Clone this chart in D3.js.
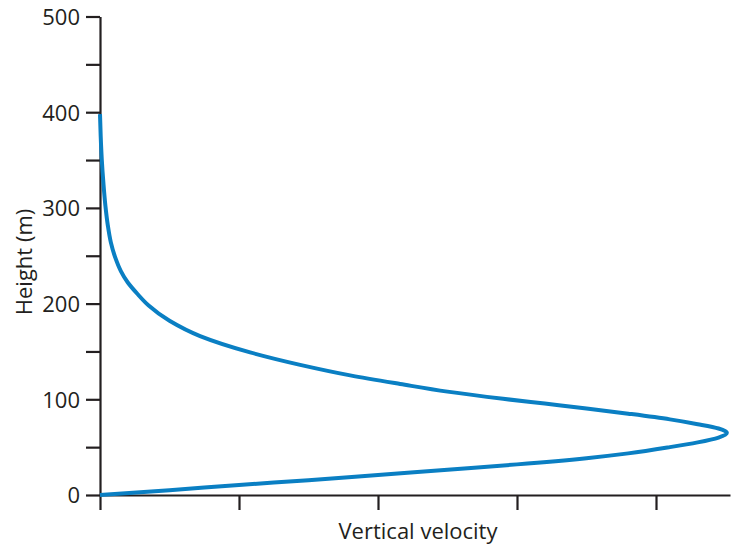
<!DOCTYPE html>
<html>
    <head>
        <meta charset="utf-8">
        <title>Vertical velocity profile</title>
        <script src="https://cdnjs.cloudflare.com/ajax/libs/d3/7.8.5/d3.min.js"></script>
        <style>
            body { margin: 0; background: #fff; }
            text { font-family: "Open Sans", sans-serif; fill: #231f20; }
            .axis path, .axis line { stroke: #231f20; stroke-width: 2.2; }
        </style>
    </head>
    <body>
        <div id="main"></div>
        <script>
            // heights (m) and velocity (arbitrary units, 1 unit = one x tick)
            var heights = [0, 5, 10.5, 15.5, 21, 26.5, 32, 38.5, 43.5, 50, 55, 60, 65,
                           69.5, 74, 79, 85, 90.5, 95.5, 100.5, 108, 116, 125, 136, 149,
                           166, 182, 198, 210, 222, 234, 248, 264, 282, 302, 325, 350, 375, 398];
            var velocity = [0, 0.5, 1, 1.5, 2, 2.5, 3, 3.5, 3.8, 4.1, 4.3, 4.45, 4.51,
                            4.45, 4.3, 4.1, 3.8, 3.5, 3.2, 2.9, 2.5, 2.16, 1.8, 1.44, 1.08,
                            0.72, 0.5, 0.35, 0.27, 0.2, 0.15, 0.11, 0.078, 0.056, 0.039, 0.025, 0.013, 0.005, 0];
            var yTicks = [0, 50, 100, 150, 200, 250, 300, 350, 400, 450, 500];
            var xTicks = [0, 1, 2, 3, 4];

            var width = 731, height = 546;
            var plotLeft = 100, plotRight = 730, plotTop = 16.5, plotBottom = 495;

            var svg = d3.select('#main').append('svg')
                .attr('width', width)
                .attr('height', height);

            var x = d3.scaleLinear().domain([0, 630 / 139]).range([plotLeft, plotRight]);
            var y = d3.scaleLinear().domain([0, 500]).range([plotBottom, plotTop]);

            svg.append('g')
                .attr('class', 'axis')
                .attr('transform', 'translate(0,' + plotBottom + ')')
                .call(d3.axisBottom(x).tickValues(xTicks).tickSize(15).tickSizeOuter(0).tickFormat(''))
                .call(function(g) { g.selectAll('text').remove(); });

            svg.append('g')
                .attr('class', 'axis')
                .attr('transform', 'translate(' + plotLeft + ',0)')
                .call(d3.axisLeft(y).tickValues(yTicks).tickSize(14).tickSizeOuter(0).tickPadding(6)
                    .tickFormat(function(d) { return d % 100 === 0 ? d : ''; }))
                .call(function(g) {
                    g.selectAll('text').style('font-size', '22px').attr('dy', '0.36em');
                });

            var data = heights.map(function(h, i) { return { h: h, v: velocity[i] }; });

            var line = d3.line()
                .x(function(d) { return x(d.v); })
                .y(function(d) { return y(d.h); })
                .curve(d3.curveMonotoneY);

            svg.append('path')
                .datum(data)
                .attr('d', line)
                .attr('fill', 'none')
                .attr('stroke', '#0a7fc3')
                .attr('stroke-width', 4);

            svg.append('text')
                .attr('x', 418)
                .attr('y', 539)
                .attr('text-anchor', 'middle')
                .style('font-size', '22px')
                .text('Vertical velocity');

            svg.append('text')
                .attr('transform', 'translate(32,262) rotate(-90)')
                .attr('text-anchor', 'middle')
                .style('font-size', '22px')
                .text('Height (m)');
        </script>
    </body>
</html>
